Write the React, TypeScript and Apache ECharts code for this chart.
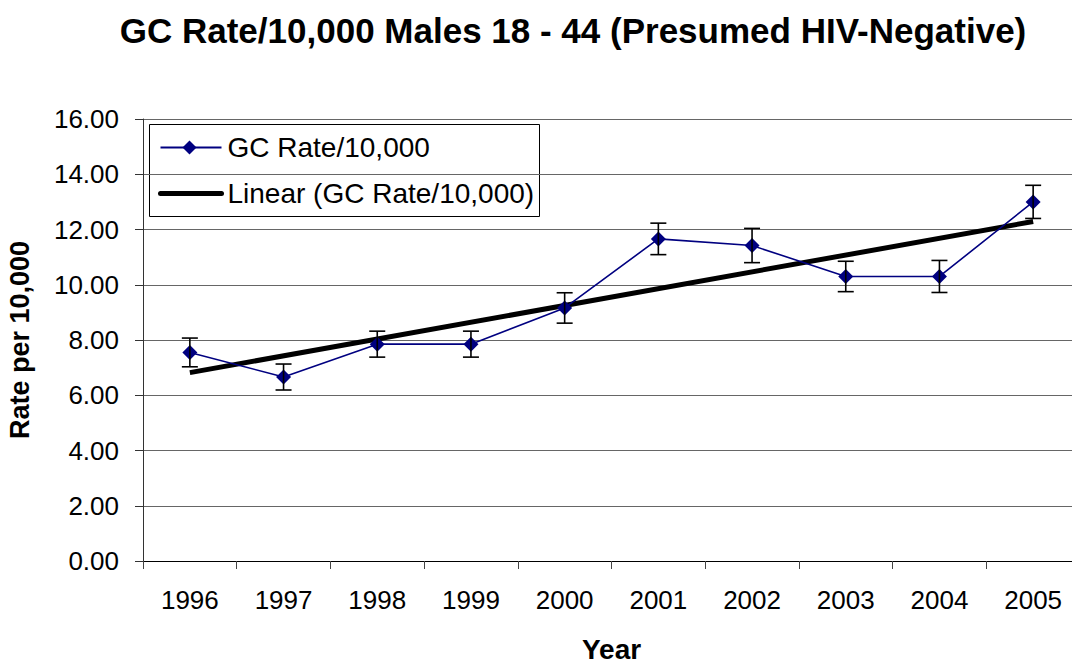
import React, { useEffect, useRef } from "react";
import * as echarts from "echarts";

const years = ["1996", "1997", "1998", "1999", "2000", "2001", "2002", "2003", "2004", "2005"];
const rates = [7.55, 6.66, 7.85, 7.85, 9.16, 11.66, 11.42, 10.3, 10.3, 13.0];
const errorMargins = [0.52, 0.47, 0.47, 0.47, 0.55, 0.57, 0.62, 0.55, 0.58, 0.6];
const trendStart = 6.82;
const trendEnd = 12.29;
const yMin = 0;
const yMax = 16;
const yStep = 2;
const seriesName = "GC Rate/10,000";
const trendName = "Linear (GC Rate/10,000)";

const FONT = "'Liberation Sans', Arial, sans-serif";

export default function App() {
  const ref = useRef<HTMLDivElement>(null);

  useEffect(() => {
    document.body.style.margin = "0";
    if (!ref.current) return;
    const chart = echarts.init(ref.current, undefined, { renderer: "svg" });

    const trendData = years.map((_, i) =>
      i === 0 ? trendStart : i === years.length - 1 ? trendEnd : null
    );
    const errData = years.map((_, i) => [i, rates[i] - errorMargins[i], rates[i] + errorMargins[i]]);

    const navy = "#000080";

    chart.setOption({
      animation: false,
      backgroundColor: "#ffffff",
      textStyle: { fontFamily: FONT },
      title: {
        text: "GC Rate/10,000 Males 18 - 44 (Presumed HIV-Negative)",
        left: 573,
        textAlign: "center",
        top: 13,
        padding: 0,
        textStyle: { fontFamily: FONT, fontSize: 35, fontWeight: "bold", color: "#000" },
      },
      grid: {
        left: 143,
        right: -8,
        top: 119,
        bottom: 102,
        containLabel: false,
        outerBoundsMode: "none",
      },
      xAxis: {
        type: "category",
        data: years,
        boundaryGap: true,
        name: "Year",
        nameLocation: "middle",
        nameGap: 74,
        nameTextStyle: { fontFamily: FONT, fontSize: 28, fontWeight: "bold", color: "#000" },
        axisLine: { lineStyle: { color: "#000", width: 1 } },
        axisTick: { show: true, interval: 0, length: 8, lineStyle: { color: "#444" } },
        axisLabel: { interval: 0, margin: 26, fontFamily: FONT, fontSize: 26, color: "#000" },
        splitLine: { show: false },
      },
      yAxis: {
        type: "value",
        min: yMin,
        max: yMax,
        interval: yStep,
        name: "Rate per 10,000",
        nameLocation: "middle",
        nameGap: 110,
        nameRotate: 90,
        nameTextStyle: { fontFamily: FONT, fontSize: 27, fontWeight: "bold", color: "#000" },
        axisLine: { show: true, lineStyle: { color: "#333", width: 1 } },
        axisTick: { show: true, length: 8, lineStyle: { color: "#333" } },
        axisLabel: {
          margin: 24,
          fontFamily: FONT,
          fontSize: 26,
          color: "#000",
          formatter: (v: number) => v.toFixed(2),
        },
        splitLine: { show: true, lineStyle: { color: "#666", width: 1 } },
      },
      graphic: [
        {
          type: "group",
          left: 149,
          top: 124,
          z: 100,
          children: [
            {
              type: "rect",
              shape: { x: 0, y: 0, width: 390, height: 92 },
              style: { fill: "#fff", stroke: "#000", lineWidth: 1 },
            },
            {
              type: "line",
              shape: { x1: 11, y1: 23, x2: 72, y2: 23 },
              style: { stroke: navy, lineWidth: 2 },
            },
            {
              type: "polygon",
              shape: { points: [[40, 16], [47, 23], [40, 30], [33, 23]] },
              style: { fill: navy },
            },
            {
              type: "text",
              x: 78,
              y: 23,
              style: {
                text: seriesName,
                fontFamily: FONT,
                fontSize: 28,
                fill: "#000",
                verticalAlign: "middle",
              },
            },
            {
              type: "line",
              shape: { x1: 11, y1: 69, x2: 72, y2: 69 },
              style: { stroke: "#000", lineWidth: 5, lineCap: "round" },
            },
            {
              type: "text",
              x: 78,
              y: 69,
              style: {
                text: trendName,
                fontFamily: FONT,
                fontSize: 28,
                fill: "#000",
                verticalAlign: "middle",
              },
            },
          ],
        },
      ],
      series: [
        {
          name: trendName,
          type: "line",
          data: trendData,
          connectNulls: true,
          symbol: "none",
          lineStyle: { color: "#000", width: 5 },
          itemStyle: { color: "#000" },
          z: 2,
        },
        {
          name: seriesName,
          type: "line",
          data: rates,
          symbol: "diamond",
          symbolSize: 15,
          lineStyle: { color: navy, width: 1.6 },
          itemStyle: { color: navy },
          z: 3,
        },
        {
          name: "errors",
          type: "custom",
          data: errData,
          encode: { x: 0, y: [1, 2] },
          z: 4,
          renderItem: (params: any, api: any) => {
            const x = api.value(0);
            const lo = api.coord([x, api.value(1)]);
            const hi = api.coord([x, api.value(2)]);
            const hw = 8;
            const style = { stroke: "#000", lineWidth: 1.6 };
            return {
              type: "group",
              children: [
                { type: "line", shape: { x1: lo[0], y1: lo[1], x2: hi[0], y2: hi[1] }, style },
                { type: "line", shape: { x1: lo[0] - hw, y1: lo[1], x2: lo[0] + hw, y2: lo[1] }, style },
                { type: "line", shape: { x1: hi[0] - hw, y1: hi[1], x2: hi[0] + hw, y2: hi[1] }, style },
              ],
            };
          },
        },
      ],
    });

    return () => chart.dispose();
  }, []);

  return (
    <div
      ref={ref}
      style={{ position: "fixed", left: 0, top: 0, width: 1072, height: 663 }}
    />
  );
}
